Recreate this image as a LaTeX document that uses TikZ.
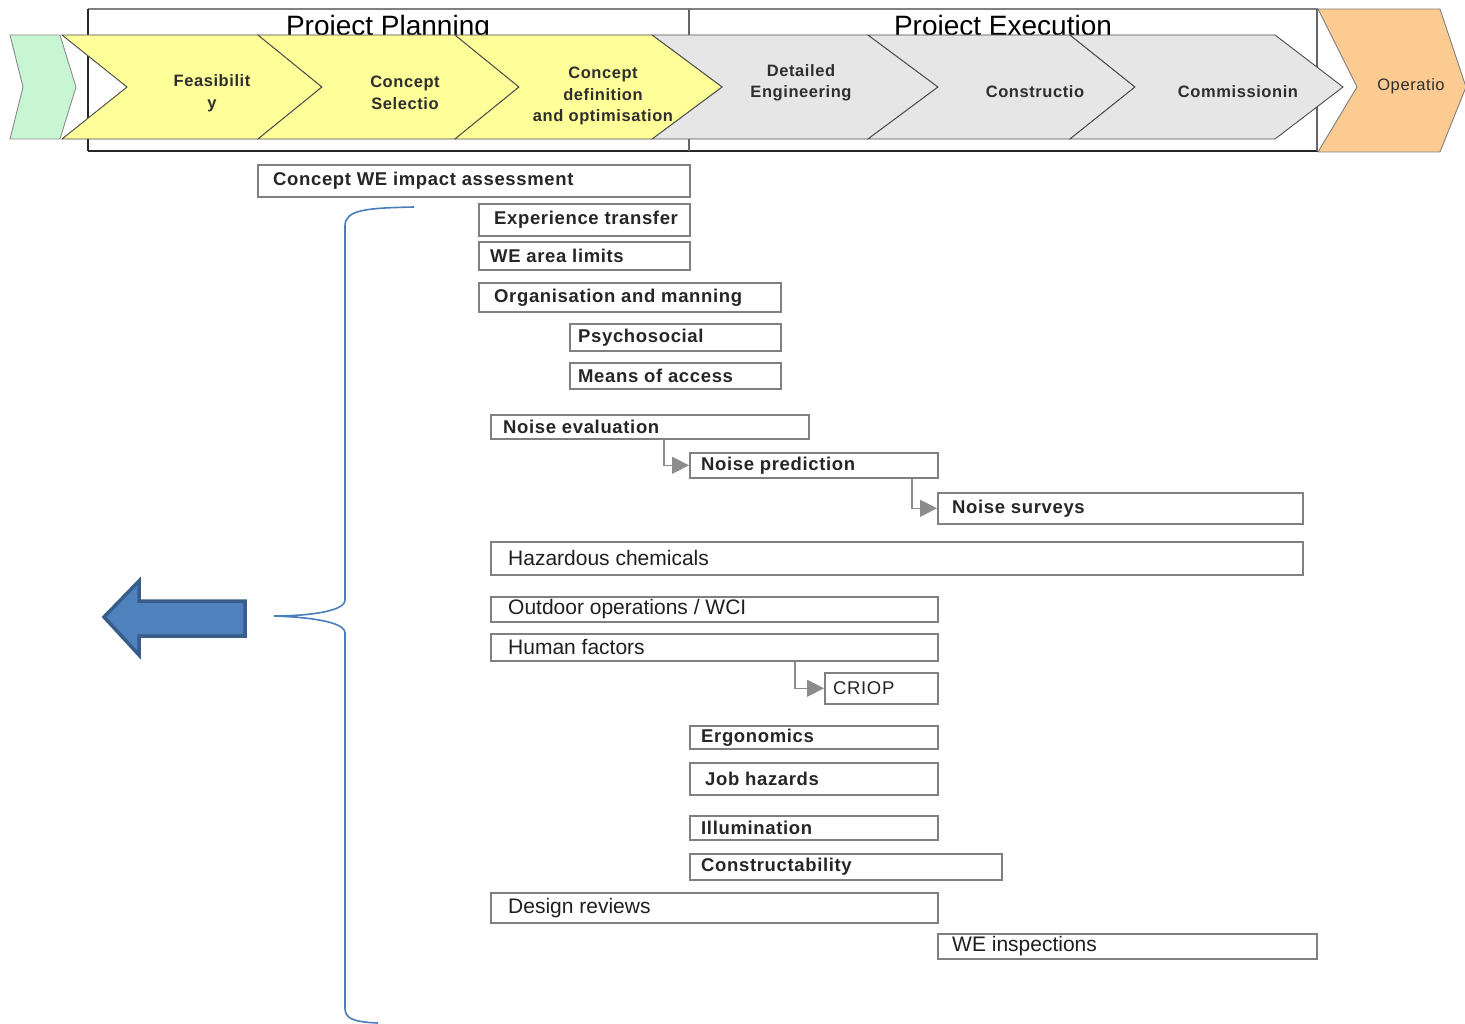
\documentclass[tikz,border=0pt]{standalone}
\usepackage{fontspec}
\setmainfont{Liberation Sans}
\newfontfamily\spacedfont[LetterSpace=3.5]{Liberation Sans}
\usetikzlibrary{arrows.meta,calc}
\definecolor{chyellow}{HTML}{FFFF99}
\definecolor{chgrey}{HTML}{E6E6E6}
\definecolor{chgreen}{HTML}{C8F5D2}
\definecolor{chorange}{HTML}{FBCB92}
\definecolor{bracebl}{HTML}{4A7EBB}
\definecolor{arrfill}{HTML}{4F81BD}
\definecolor{arrdraw}{HTML}{385D8A}
\tikzset{
  chev/.style={draw=black!70, line width=0.9pt, line join=miter},
  chtxt/.style={font=\spacedfont\bfseries\fontsize{16.5}{21.5}\selectfont, align=center, text=black!82, inner sep=0pt},
  ttl/.style={font=\fontsize{28}{30}\selectfont, anchor=base, inner sep=0pt},
  wbox/.style={draw=black!50, line width=1.6pt, fill=white, inner sep=0pt, anchor=north west},
  btxt/.style={font=\spacedfont\bfseries\fontsize{18.5}{22}\selectfont, anchor=west, inner sep=0pt, text=black!85},
  ntxt/.style={font=\fontsize{21}{24}\selectfont, anchor=west, inner sep=0pt, text=black!88},
  conn/.style={draw=black!45, line width=1.3pt, -{Triangle[length=17pt,width=17pt]}},
  bracestyle/.style={draw=bracebl, line width=1.6pt},
  bigarrow/.style={fill=arrfill, draw=arrdraw, line width=3.5pt, line join=miter}
}
\begin{document}
\begin{tikzpicture}[x=1pt,y=-1pt]
\useasboundingbox (0,0) rectangle (1465,1024);
% header frame
\draw[black!50, line width=1.5pt] (88,9) -- (1318,9);
\draw[black!85, line width=2.2pt] (88,151) -- (1318,151);
\draw[black!85, line width=1.5pt] (88,9) -- (88,151);
\draw[black!60, line width=1.2pt] (689,9) -- (689,151);
\draw[black!60, line width=1.2pt] (1317,9) -- (1317,151);
\node[ttl] (tplan) at (388,36) {Project Planning};
\node[ttl] (texec) at (1003,36) {Project Execution};
% chevrons
\draw[chev, draw=black!45, fill=chgreen] (10,35) -- (60,35) -- (76,87) -- (60,139) -- (10,139) -- (23,87) -- cycle;
\draw[chev, fill=chyellow] (62,35) -- (258,35) -- (322,87) -- (258,139) -- (62,139) -- (127,87) -- cycle;
\draw[chev, fill=chyellow] (258,35) -- (455,35) -- (519,87) -- (455,139) -- (258,139) -- (322,87) -- cycle;
\draw[chev, fill=chgrey] (652,35) -- (868,35) -- (938,87) -- (868,139) -- (652,139) -- (722,87) -- cycle;
\draw[chev, fill=chgrey] (868,35) -- (1070,35) -- (1135,87) -- (1070,139) -- (868,139) -- (938,87) -- cycle;
\draw[chev, fill=chgrey] (1070,35) -- (1275,35) -- (1343,87) -- (1275,139) -- (1070,139) -- (1135,87) -- cycle;
\draw[chev, fill=chyellow] (455,35) -- (652,35) -- (722,87) -- (652,139) -- (455,139) -- (519,87) -- cycle;
\draw[chev, draw=black!50, fill=chorange] (1318,9) -- (1440,9) -- (1466,87) -- (1440,152) -- (1318,152) -- (1357,87) -- cycle;
\node[chtxt] (cfeas) at (212,93) {Feasibilit\\y};
\node[chtxt] (csel) at (405,93) {Concept\\Selectio};
\node[chtxt] (cdef) at (603,96) {Concept\\definition\\and optimisation};
\node[chtxt] (cdet) at (801,83) {Detailed\\Engineering};
\node[chtxt] (ccon) at (1035,92) {Constructio};
\node[chtxt] (ccom) at (1238,92) {Commissionin};
\node[chtxt, font=\spacedfont\fontsize{16.5}{20}\selectfont] (cope) at (1411,86) {Operatio};
% activity boxes
\node[wbox, minimum width=432, minimum height=32] (cwe) at (257,164) {};
\node[btxt] (cwet) at ([xshift=16]cwe.west) {Concept WE impact assessment};
\node[wbox, minimum width=211, minimum height=32] (exp) at (478,203) {};
\node[btxt] (expt) at ([xshift=16]exp.west) {Experience transfer};
\node[wbox, minimum width=211, minimum height=28] (wea) at (478,241) {};
\node[btxt] (weat) at ([xshift=12]wea.west) {WE area limits};
\node[wbox, minimum width=302, minimum height=29] (org) at (478,282) {};
\node[btxt] (orgt) at ([xshift=16]org.west) {Organisation and manning};
\node[wbox, minimum width=211, minimum height=27] (psy) at (569,323) {};
\node[btxt] (psyt) at ([xshift=9]psy.west) {Psychosocial};
\node[wbox, minimum width=211, minimum height=26] (moa) at (569,362) {};
\node[btxt] (moat) at ([xshift=9]moa.west) {Means of access};
\node[wbox, minimum width=318, minimum height=24] (nev) at (490,414) {};
\node[btxt] (nevt) at ([xshift=13]nev.west) {Noise evaluation};
\node[wbox, minimum width=248, minimum height=25] (npr) at (689,452) {};
\node[btxt] (nprt) at ([xshift=12]npr.west) {Noise prediction};
\node[wbox, minimum width=365, minimum height=31] (nsu) at (937,492) {};
\node[btxt] (nsut) at ([xshift=15]nsu.west) {Noise surveys};
\node[wbox, minimum width=812, minimum height=33] (haz) at (490,541) {};
\node[ntxt] (hazt) at ([xshift=18]haz.west) {Hazardous chemicals};
\node[wbox, minimum width=447, minimum height=25] (out) at (490,596) {};
\node[ntxt] (outt) at ([xshift=18]out.west) {Outdoor operations / WCI};
\node[wbox, minimum width=447, minimum height=27] (hum) at (490,633) {};
\node[ntxt] (humt) at ([xshift=18]hum.west) {Human factors};
\node[wbox, minimum width=113, minimum height=31] (cri) at (824,672) {};
\node[btxt, font=\spacedfont\fontsize{18.5}{22}\selectfont] (crit) at ([xshift=9]cri.west) {CRIOP};
\node[wbox, minimum width=248, minimum height=23] (erg) at (689,725) {};
\node[btxt] (ergt) at ([xshift=12]erg.west) {Ergonomics};
\node[wbox, minimum width=248, minimum height=32] (job) at (689,762) {};
\node[btxt] (jobt) at ([xshift=16]job.west) {Job hazards};
\node[wbox, minimum width=248, minimum height=24] (ill) at (689,815) {};
\node[btxt] (illt) at ([xshift=12]ill.west) {Illumination};
\node[wbox, minimum width=312, minimum height=26] (cst) at (689,853) {};
\node[btxt] (cstt) at ([xshift=12]cst.west) {Constructability};
\node[wbox, minimum width=447, minimum height=30] (des) at (490,892) {};
\node[ntxt] (dest) at ([xshift=18]des.west) {Design reviews};
\node[wbox, minimum width=379, minimum height=25] (wei) at (937,933) {};
\node[ntxt] (weit) at ([xshift=15]wei.west) {WE inspections};
% connectors
\draw[conn] ([xshift=174]nev.south west) |- (npr.west);
\draw[conn] ([xshift=223]npr.south west) |- (nsu.west);
\draw[conn] ([xshift=305]hum.south west) |- (cri.west);
% brace
\coordinate (btop) at (414,207);
\coordinate (btip) at (274,616);
\coordinate (bbot) at (378,1023);
\draw[bracestyle] (btop) .. controls (365,208) and (345,210) .. (345,226) -- (345,600)
  .. controls (345,612) and (305,616) .. (btip) .. controls (305,617) and (345,621) .. (345,633)
  -- (345,1008) .. controls (345,1018) and (352,1022) .. (bbot);
% big arrow
\draw[bigarrow] (104,617) -- (139,581) -- (139,601) -- (245,601) -- (245,636) -- (139,636) -- (139,655) -- cycle;
\end{tikzpicture}
\end{document}
